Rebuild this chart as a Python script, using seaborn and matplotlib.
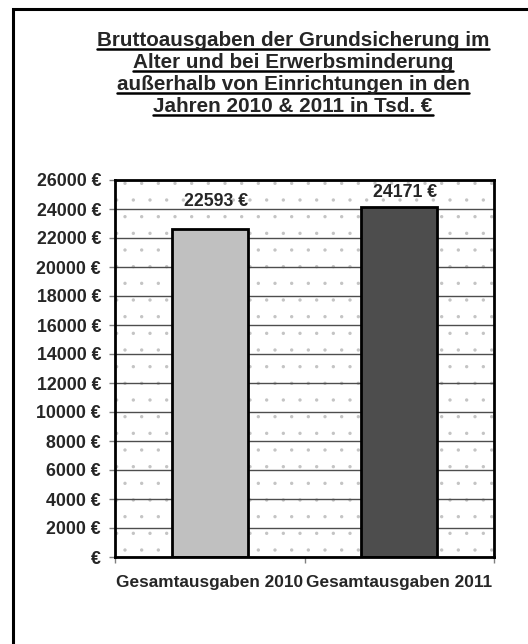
import pandas as pd
import seaborn as sns
import matplotlib.pyplot as plt
from matplotlib.patches import Rectangle
from matplotlib.lines import Line2D
from matplotlib.transforms import IdentityTransform

# Daten
kategorien = ["Gesamtausgaben 2010", "Gesamtausgaben 2011"]
ausgaben = [22593, 24171]
farben = ["#C0C0C0", "#4D4D4D"]
y_ticks = list(range(0, 26001, 2000))
titel_zeilen = [
    "Bruttoausgaben der Grundsicherung im",
    "Alter und bei Erwerbsminderung",
    "außerhalb von Einrichtungen in den",
    "Jahren 2010 & 2011 in Tsd. €",
]

sns.set_style("white")
plt.rcParams["font.family"] = ["Liberation Sans", "DejaVu Sans"]
plt.rcParams["font.weight"] = "bold"
plt.rcParams["hatch.linewidth"] = 0.0

W, H = 528, 644
fig = plt.figure(figsize=(W / 100, H / 100), dpi=100)

# Rahmen um das ganze Diagramm (rechts/unten abgeschnitten)
fig.patches.append(Rectangle((13 / W, -0.2), 2, 1.2 - 9 / H, transform=fig.transFigure,
                             fill=False, edgecolor="black", linewidth=2.2))

ax = fig.add_axes([115 / W, 87 / H, 379 / W, 377 / H])

# gepunkteter Hintergrund
ax.add_patch(Rectangle((0, 0), 1, 1, transform=ax.transAxes, facecolor="white",
                       edgecolor="#C4C4C4", linewidth=0, hatch=".", zorder=0.2))

tabela = pd.DataFrame({"kategorie": kategorien, "ausgaben": ausgaben})
sns.barplot(data=tabela, x="kategorie", y="ausgaben", hue="kategorie", palette=farben,
            saturation=1, width=0.4, edgecolor="black", linewidth=2, legend=False, ax=ax)
for p in ax.patches[1:]:
    p.set_zorder(2)

ax.set_xlim(-0.5, 1.5)
ax.set_ylim(0, 26000)
ax.set_yticks(y_ticks)
ax.set_yticklabels([f"{v} €" if v else "€" for v in y_ticks])
ax.yaxis.grid(True, color="#4D4D4D", linewidth=1)
ax.set_axisbelow(True)
ax.tick_params(axis="y", direction="out", length=4, width=1, color="#808080",
               labelsize=12.8, pad=6, left=True)
ax.set_xticks([-0.5, 0.5, 1.5], minor=True)
ax.tick_params(axis="x", which="major", length=0, labelsize=12.4, pad=13)
ax.tick_params(axis="x", which="minor", direction="out", length=4, width=1,
               color="#808080", bottom=True)
ax.set_xlabel("")
ax.set_ylabel("")
for s in ax.spines.values():
    s.set_visible(True)
    s.set_color("black")
    s.set_linewidth(2)
    s.set_zorder(3)

# Datenbeschriftung
label_offsets = [28, 14]
for i, (v, off) in enumerate(zip(ausgaben, label_offsets)):
    ax.annotate(f"{v} €", (i, v), xytext=(6, off), textcoords="offset pixels",
                ha="center", va="center", fontsize=12.8, fontweight="bold", zorder=4)

# Titel mit Unterstreichung
baselines = [46, 68, 90, 112]
titel_texte = []
for zeile, yb in zip(titel_zeilen, baselines):
    t = fig.text(293 / W, 1 - yb / H, zeile, ha="center", va="baseline",
                 fontsize=14.9, fontweight="bold")
    titel_texte.append((t, yb))

fig.canvas.draw()
renderer = fig.canvas.get_renderer()
for t, yb in titel_texte:
    bb = t.get_window_extent(renderer)
    y = H - yb - 3
    fig.add_artist(Line2D([bb.x0, bb.x1], [y, y], transform=IdentityTransform(),
                          color="black", linewidth=1.8))

fig.savefig("out.png", dpi=100)
